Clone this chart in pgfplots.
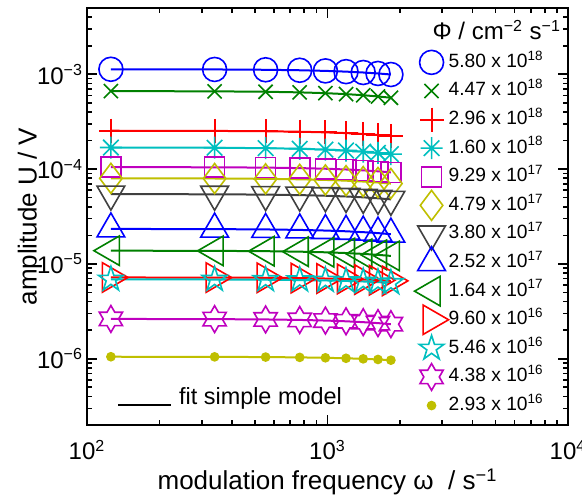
\documentclass[border=0pt]{standalone}
\usepackage{pgfplots}
\pgfplotsset{compat=1.18}
\usepackage{pgfplotstable}
\usepackage{fontspec}
\setmainfont{Liberation Sans}

\definecolor{mblue}{rgb}{0,0,1}
\definecolor{mgreen}{rgb}{0,0.5,0}
\definecolor{mred}{rgb}{1,0,0}
\definecolor{mcyan}{rgb}{0,0.75,0.75}
\definecolor{mmag}{rgb}{0.75,0,0.75}
\definecolor{myel}{rgb}{0.75,0.75,0}
\definecolor{mblack}{rgb}{0.25,0.25,0.25}

\pgfdeclareplotmark{plus6}{%
  \pgfpathmoveto{\pgfqpoint{0pt}{\pgfplotmarksize}}\pgfpathlineto{\pgfqpoint{0pt}{-\pgfplotmarksize}}%
  \pgfpathmoveto{\pgfqpoint{\pgfplotmarksize}{0pt}}\pgfpathlineto{\pgfqpoint{-\pgfplotmarksize}{0pt}}%
  \pgfusepathqstroke}
\pgfdeclareplotmark{ast8}{%
  \pgfpathmoveto{\pgfqpoint{0pt}{\pgfplotmarksize}}\pgfpathlineto{\pgfqpoint{0pt}{-\pgfplotmarksize}}%
  \pgfpathmoveto{\pgfqpoint{\pgfplotmarksize}{0pt}}\pgfpathlineto{\pgfqpoint{-\pgfplotmarksize}{0pt}}%
  \pgfpathmoveto{\pgfpointpolar{45}{\pgfplotmarksize}}\pgfpathlineto{\pgfpointpolar{225}{\pgfplotmarksize}}%
  \pgfpathmoveto{\pgfpointpolar{135}{\pgfplotmarksize}}\pgfpathlineto{\pgfpointpolar{315}{\pgfplotmarksize}}%
  \pgfusepathqstroke}
\pgfdeclareplotmark{pentagramo}{%
  \pgfpathmoveto{\pgfpointpolar{90}{\pgfplotmarksize}}%
  \pgfpathlineto{\pgfpointpolar{126}{0.382\pgfplotmarksize}}%
  \pgfpathlineto{\pgfpointpolar{162}{\pgfplotmarksize}}%
  \pgfpathlineto{\pgfpointpolar{198}{0.382\pgfplotmarksize}}%
  \pgfpathlineto{\pgfpointpolar{234}{\pgfplotmarksize}}%
  \pgfpathlineto{\pgfpointpolar{270}{0.382\pgfplotmarksize}}%
  \pgfpathlineto{\pgfpointpolar{306}{\pgfplotmarksize}}%
  \pgfpathlineto{\pgfpointpolar{342}{0.382\pgfplotmarksize}}%
  \pgfpathlineto{\pgfpointpolar{18}{\pgfplotmarksize}}%
  \pgfpathlineto{\pgfpointpolar{54}{0.382\pgfplotmarksize}}%
  \pgfpathclose\pgfusepathqstroke}
\pgfdeclareplotmark{hexagramo}{%
  \pgfpathmoveto{\pgfpointpolar{90}{\pgfplotmarksize}}%
  \pgfpathlineto{\pgfpointpolar{120}{0.577\pgfplotmarksize}}%
  \pgfpathlineto{\pgfpointpolar{150}{\pgfplotmarksize}}%
  \pgfpathlineto{\pgfpointpolar{180}{0.577\pgfplotmarksize}}%
  \pgfpathlineto{\pgfpointpolar{210}{\pgfplotmarksize}}%
  \pgfpathlineto{\pgfpointpolar{240}{0.577\pgfplotmarksize}}%
  \pgfpathlineto{\pgfpointpolar{270}{\pgfplotmarksize}}%
  \pgfpathlineto{\pgfpointpolar{300}{0.577\pgfplotmarksize}}%
  \pgfpathlineto{\pgfpointpolar{330}{\pgfplotmarksize}}%
  \pgfpathlineto{\pgfpointpolar{0}{0.577\pgfplotmarksize}}%
  \pgfpathlineto{\pgfpointpolar{30}{\pgfplotmarksize}}%
  \pgfpathlineto{\pgfpointpolar{60}{0.577\pgfplotmarksize}}%
  \pgfpathclose\pgfusepathqstroke}

\pgfplotstableread{
w      s1        s2        s3        s4        s5        s6        s7        s8        s9        s10       s11       s12       s13
125.7  1.1293e-3 6.6446e-4 2.5384e-4 1.6886e-4 1.0493e-4 7.9949e-5 5.4465e-5 2.3385e-5 1.3791e-5 7.1970e-6 6.8671e-6 2.6283e-6 1.0496e-6
339.3  1.1244e-3 6.6080e-4 2.5274e-4 1.6793e-4 1.0448e-4 7.9602e-5 5.4229e-5 2.3284e-5 1.3731e-5 7.1766e-6 6.8477e-6 2.6169e-6 1.0466e-6
552.9  1.1154e-3 6.5407e-4 2.5071e-4 1.6622e-4 1.0364e-4 7.8964e-5 5.3794e-5 2.3097e-5 1.3621e-5 7.1390e-6 6.8118e-6 2.5959e-6 1.0411e-6
766.5  1.1025e-3 6.4446e-4 2.4781e-4 1.6378e-4 1.0244e-4 7.8050e-5 5.3172e-5 2.2830e-5 1.3464e-5 7.0851e-6 6.7604e-6 2.5659e-6 1.0333e-6
980.2  1.0858e-3 6.3212e-4 2.4407e-4 1.6064e-4 1.0089e-4 7.6872e-5 5.2369e-5 2.2485e-5 1.3260e-5 7.0151e-6 6.6936e-6 2.5272e-6 1.0230e-6
1193.8 1.0663e-3 6.1770e-4 2.3968e-4 1.5698e-4 9.9080e-5 7.5490e-5 5.1427e-5 2.2081e-5 1.3022e-5 6.9325e-6 6.6148e-6 2.4817e-6 1.0110e-6
1407.4 1.0442e-3 6.0145e-4 2.3471e-4 1.5285e-4 9.7020e-5 7.3923e-5 5.0360e-5 2.1623e-5 1.2752e-5 6.8384e-6 6.5250e-6 2.4302e-6 9.9730e-7
1621.1 1.0200e-3 5.8383e-4 2.2928e-4 1.4837e-4 9.4780e-5 7.2214e-5 4.9196e-5 2.1123e-5 1.2457e-5 6.7348e-6 6.4261e-6 2.3740e-6 9.8220e-7
1834.7 9.9440e-4 5.6525e-4 2.2352e-4 1.4365e-4 9.2400e-5 7.0400e-5 4.7960e-5 2.0592e-5 1.2144e-5 6.6240e-6 6.3204e-6 2.3144e-6 9.6600e-7
}\data

\pgfplotsset{
  lgm/.style={legend image code/.code={%
    \path[draw=none, fill=none] (0cm,-5.5pt) rectangle (0.6cm,5.5pt);
    \draw[##1, only marks, overlay] plot coordinates {(0.3cm,0cm)};}},
  dat/.style={only marks, line width=0.8pt, lgm},
  fit/.style={no marks, line width=1pt, forget plot},
}

\begin{document}
\begin{tikzpicture}
\begin{axis}[
  scale only axis, width=240.5pt, height=208.5pt,
  xmode=log, ymode=log,
  xmin=100, xmax=10000, ymin=2e-7, ymax=5e-3,
  xtick={100,1000,10000},
  xticklabels={10\textsuperscript{2},10\textsuperscript{3},10\textsuperscript{4}},
  ytick={1e-6,1e-5,1e-4,1e-3},
  yticklabels={10\textsuperscript{−6},10\textsuperscript{−5},10\textsuperscript{−4},10\textsuperscript{−3}},
  minor xtick={200,300,400,500,600,700,800,900,2000,3000,4000,5000,6000,7000,8000,9000},
  minor ytick={2e-7,3e-7,4e-7,5e-7,6e-7,7e-7,8e-7,9e-7,2e-6,3e-6,4e-6,5e-6,6e-6,7e-6,8e-6,9e-6,2e-5,3e-5,4e-5,5e-5,6e-5,7e-5,8e-5,9e-5,2e-4,3e-4,4e-4,5e-4,6e-4,7e-4,8e-4,9e-4,2e-3,3e-3,4e-3},
  tick align=inside, major tick length=5pt, minor tick length=2.5pt,
  every tick/.style={black, line width=0.8pt},
  axis line style={line width=0.9pt},
  tick label style={font=\fontsize{12}{14}\selectfont},
  xticklabel style={yshift=-4pt},
  yticklabel style={xshift=1.5pt},
  xlabel={modulation frequency ω\ \ / s\textsuperscript{−1}},
  ylabel={amplitude U / V},
  every axis x label/.style={at={(axis description cs:0.5,0)}, anchor=center, yshift=-28.5pt, font=\fontsize{13}{15}\selectfont},
  every axis y label/.style={at={(axis description cs:0,0.5)}, anchor=center, rotate=90, yshift=28.5pt, font=\fontsize{13}{15}\selectfont},
  legend style={at={(rel axis cs:0.680,0.897)}, anchor=north west, draw=none, fill=none,
    inner sep=0pt, row sep=3.3pt, column sep=0pt,
    nodes={inner sep=0pt, text height=8pt, text depth=3pt, font=\fontsize{9.6}{11}\selectfont},
    cells={anchor=west}},
  legend cell align=left,
]
\addplot[dat, mblue, mark=o, mark size=6pt] table[x=w,y=s1] {\data};
\addlegendentry{5.80 x 10\textsuperscript{18}}
\addplot[dat, mgreen, mark=x, mark size=5pt] table[x=w,y=s2] {\data};
\addlegendentry{4.47 x 10\textsuperscript{18}}
\addplot[dat, color=mred, mark=plus6, mark size=6pt, mark options={draw=mred, line width=1pt}] table[x=w,y=s3] {\data};
\addlegendentry{2.96 x 10\textsuperscript{18}}
\addplot[dat, mcyan, mark=ast8, mark size=5.5pt] table[x=w,y=s4] {\data};
\addlegendentry{1.60 x 10\textsuperscript{18}}
\addplot[dat, mmag, mark=square, mark size=5pt] table[x=w,y=s5] {\data};
\addlegendentry{9.29 x 10\textsuperscript{17}}
\addplot[dat, myel, mark=diamond, mark size=7.5pt] table[x=w,y=s6] {\data};
\addlegendentry{4.79 x 10\textsuperscript{17}}
\addplot[dat, mblack, mark=triangle, mark size=8pt, mark options={rotate=180}] table[x=w,y=s7] {\data};
\addlegendentry{3.80 x 10\textsuperscript{17}}
\addplot[dat, mblue, mark=triangle, mark size=8pt] table[x=w,y=s8] {\data};
\addlegendentry{2.52 x 10\textsuperscript{17}}
\addplot[dat, mgreen, mark=triangle, mark size=8.5pt, mark options={rotate=90}] table[x=w,y=s9] {\data};
\addlegendentry{1.64 x 10\textsuperscript{17}}
\addplot[dat, mred, mark=triangle, mark size=8.5pt, mark options={rotate=-90}] table[x=w,y=s10] {\data};
\addlegendentry{9.60 x 10\textsuperscript{16}}
\addplot[dat, mcyan, mark=pentagramo, mark size=6.5pt] table[x=w,y=s11] {\data};
\addlegendentry{5.46 x 10\textsuperscript{16}}
\addplot[dat, mmag, mark=hexagramo, mark size=6.7pt] table[x=w,y=s12] {\data};
\addlegendentry{4.38 x 10\textsuperscript{16}}
\addplot[dat, myel, mark=*, mark size=2pt, mark options={fill=myel}] table[x=w,y=s13] {\data};
\addlegendentry{2.93 x 10\textsuperscript{16}}

\addplot[fit, mblue]   table[x=w,y=s1]  {\data};
\addplot[fit, mgreen]  table[x=w,y=s2]  {\data};
\addplot[fit, mred]    table[x=w,y=s3]  {\data};
\addplot[fit, mcyan]   table[x=w,y=s4]  {\data};
\addplot[fit, mmag]    table[x=w,y=s5]  {\data};
\addplot[fit, myel]    table[x=w,y=s6]  {\data};
\addplot[fit, mblack]  table[x=w,y=s7]  {\data};
\addplot[fit, mblue]   table[x=w,y=s8]  {\data};
\addplot[fit, mgreen]  table[x=w,y=s9]  {\data};
\addplot[fit, mred]    table[x=w,y=s10] {\data};
\addplot[fit, mcyan]   table[x=w,y=s11] {\data};
\addplot[fit, mmag]    table[x=w,y=s12] {\data};
\addplot[fit, myel]    table[x=w,y=s13] {\data};

\node[font=\fontsize{12}{14}\selectfont] at (rel axis cs:0.852,0.947) {Φ / cm\textsuperscript{−2} s\textsuperscript{−1}};
\end{axis}
\begin{axis}[
  scale only axis, width=240.5pt, height=208.5pt, hide axis,
  xmin=0, xmax=1, ymin=0, ymax=1,
  legend style={at={(rel axis cs:0.0624,0.0624)}, anchor=west, draw=none, fill=none,
    inner sep=0pt, column sep=3.5pt,
    nodes={inner sep=0pt, text height=8.5pt, text depth=2.5pt, font=\fontsize{11.7}{13}\selectfont}},
  legend image code/.code={\path[draw=none, fill=none] (0pt,-5.5pt) rectangle (26.5pt,5.5pt); \draw[#1] (0pt,-3pt) -- (26.5pt,-3pt);},
]
\addlegendimage{black, line width=0.9pt}
\addlegendentry{fit simple model}
\end{axis}
\pgfresetboundingbox
\path[use as bounding box] (-43.5pt,-36pt) rectangle (247.5pt,212.5pt);
\end{tikzpicture}
\end{document}
